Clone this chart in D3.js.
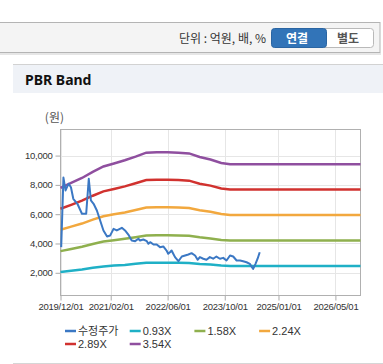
<!DOCTYPE html>
<html>
<head>
<meta charset="utf-8">
<script src="https://cdn.jsdelivr.net/npm/d3@7"></script>
<style>
  body { margin: 0; background: #fff; font-family: "Noto Sans CJK KR", "Noto Sans", sans-serif; }
  svg { display: block; }
</style>
</head>
<body>
<svg width="383" height="364"></svg>
<script>
// x axis ticks
var tickDates = ["2019/12/01", "2021/02/01", "2022/06/01", "2023/10/01", "2025/01/01", "2026/05/01"];
var yTicks = [2000, 4000, 6000, 8000, 10000];

// adjusted price (수정주가)
var priceDates = ["2019/12/07", "2019/12/26", "2020/01/13", "2020/02/08", "2020/02/28", "2020/03/19",
  "2020/04/23", "2020/06/01", "2020/07/07", "2020/07/29", "2020/08/16", "2020/09/08", "2020/10/06",
  "2020/11/03", "2020/12/01", "2021/01/01", "2021/01/28", "2021/02/25", "2021/03/25", "2021/05/07",
  "2021/06/03", "2021/07/01", "2021/07/30", "2021/08/28", "2021/09/25", "2021/10/09", "2021/11/06",
  "2021/12/06", "2021/12/19", "2022/01/03", "2022/02/01", "2022/02/28", "2022/03/28", "2022/04/25",
  "2022/05/23", "2022/06/06", "2022/06/21", "2022/07/05", "2022/07/19", "2022/08/03", "2022/09/01",
  "2022/09/30", "2022/10/28", "2022/11/25", "2022/12/22", "2023/01/21", "2023/02/12", "2023/03/03",
  "2023/04/01", "2023/04/28", "2023/05/27", "2023/06/24", "2023/07/22", "2023/08/21", "2023/09/18",
  "2023/10/16", "2023/11/15", "2023/12/12", "2024/01/10", "2024/02/08", "2024/03/06", "2024/04/04",
  "2024/05/02", "2024/05/16", "2024/05/30", "2024/06/19", "2024/07/07", "2024/07/25"];
var priceValues = [3750, 8500, 7620, 8080, 7840, 7050,
  6710, 6030, 6030, 8420, 6940, 6710, 6250,
  5570, 4890, 4480, 4550, 5000, 4890, 5070,
  4890, 4610, 4200, 4160, 4320, 4200, 4270,
  4160, 3980, 4090, 3930, 3930, 3750, 3800,
  3520, 3300, 3400, 3520, 3300, 3070, 2790,
  3110, 3180, 3250, 3340, 3180, 2890, 3070,
  2960, 2890, 3070, 2960, 3110, 2960, 3020,
  2840, 3180, 3110, 2840, 2840, 2790, 2720,
  2610, 2430, 2270, 2610, 2960, 3400];

// PBR band lines
var bandDates = ["2019/12/01", "2020/03/01", "2020/06/01", "2020/09/01", "2020/12/01", "2021/03/01",
  "2021/06/01", "2021/09/01", "2021/12/01", "2022/03/01", "2022/06/01", "2022/09/01", "2022/12/01",
  "2023/03/01", "2023/06/01", "2023/09/01", "2023/11/15", "2026/12/01"];
var band093 = [2050, 2140, 2230, 2340, 2430, 2490, 2540, 2610, 2680, 2690, 2690, 2680, 2670, 2600, 2560, 2500, 2470, 2470];
var band158 = [3480, 3630, 3780, 3970, 4130, 4220, 4320, 4430, 4550, 4570, 4570, 4550, 4530, 4420, 4340, 4240, 4200, 4200];
var band224 = [4940, 5150, 5360, 5630, 5860, 5990, 6120, 6280, 6450, 6470, 6470, 6450, 6420, 6270, 6160, 6010, 5950, 5950];
var band289 = [6370, 6640, 6920, 7260, 7560, 7720, 7900, 8110, 8330, 8350, 8350, 8330, 8290, 8080, 7950, 7760, 7680, 7680];
var band354 = [7800, 8130, 8470, 8890, 9260, 9460, 9680, 9930, 10200, 10230, 10230, 10200, 10150, 9900, 9730, 9500, 9410, 9410];

var seriesNames = ["수정주가", "0.93X", "1.58X", "2.24X", "2.89X", "3.54X"];
var seriesColors = ["#3b78c4", "#1fb0c6", "#8fb04e", "#f2a83e", "#d1322f", "#8f4f9f"];

var parse = d3.timeParse("%Y/%m/%d");
var svg = d3.select("svg");

// top option bar
svg.append("rect").attr("x", -1).attr("y", 22.5).attr("width", 381).attr("height", 30)
  .attr("fill", "#f4f4f4").attr("stroke", "#b4b4b4");
svg.append("line").attr("x1", 0).attr("x2", 381).attr("y1", 54).attr("y2", 54)
  .attr("stroke", "#e6e6e6").attr("stroke-width", 2);
svg.append("text").attr("x", 266).attr("y", 42.5).attr("text-anchor", "end")
  .attr("font-size", 12).attr("fill", "#333").text("단위 : 억원, 배, %");

svg.append("rect").attr("x", 322).attr("y", 28.5).attr("width", 51.5).attr("height", 19).attr("rx", 3)
  .attr("fill", "#fff").attr("stroke", "#b9b9b9");
svg.append("rect").attr("x", 271.5).attr("y", 28.5).attr("width", 55).attr("height", 19).attr("rx", 3)
  .attr("fill", "#3274b8").attr("stroke", "#2b65a2");
svg.append("rect").attr("x", 318).attr("y", 29).attr("width", 4.5).attr("height", 18).attr("fill", "#3274b8");
svg.append("text").attr("x", 297).attr("y", 42.5).attr("text-anchor", "middle")
  .attr("font-size", 12).attr("font-weight", "bold").attr("fill", "#fff").text("연결");
svg.append("text").attr("x", 348).attr("y", 42.5).attr("text-anchor", "middle")
  .attr("font-size", 12).attr("font-weight", "bold").attr("fill", "#555").text("별도");

// section header
svg.append("rect").attr("x", 13).attr("y", 64).attr("width", 370).attr("height", 29).attr("fill", "#eff2f7");
svg.append("line").attr("x1", 13).attr("x2", 383).attr("y1", 64.5).attr("y2", 64.5).attr("stroke", "#d2d2d2");
svg.append("text").attr("x", 25).attr("y", 85).attr("font-size", 14).attr("font-weight", "bold")
  .attr("fill", "#111").attr("font-family", "'Noto Sans', sans-serif").text("PBR Band");
svg.append("line").attr("x1", 13).attr("x2", 383).attr("y1", 363.5).attr("y2", 363.5).attr("stroke", "#d6d6d6");

// plot area
var plotLeft = 60.5, plotRight = 360.5, plotTop = 129.5, plotBottom = 295.5;

var x = d3.scaleTime()
  .domain([parse("2019/12/01"), parse("2026/12/01")])
  .range([plotLeft, plotRight]);
var y = d3.scaleLinear()
  .domain([450, 11780])
  .range([plotBottom, plotTop]);

var tickFormat = d3.timeFormat("%Y/%m/%d");

// gridlines
svg.append("g").selectAll("line").data(yTicks).enter().append("line")
  .attr("x1", plotLeft).attr("x2", plotRight)
  .attr("y1", function (d) { return Math.round(y(d)) + 0.5; })
  .attr("y2", function (d) { return Math.round(y(d)) + 0.5; })
  .attr("stroke", "#e6e6e6");
svg.append("g").selectAll("line").data(tickDates).enter().append("line")
  .attr("x1", function (d) { return Math.round(x(parse(d))) + 0.5; })
  .attr("x2", function (d) { return Math.round(x(parse(d))) + 0.5; })
  .attr("y1", plotTop).attr("y2", plotBottom)
  .attr("stroke", "#e6e6e6");

// axes
var xAxis = svg.append("g")
  .attr("transform", "translate(0," + plotBottom + ")")
  .call(d3.axisBottom(x)
    .tickValues(tickDates.map(parse))
    .tickFormat(tickFormat)
    .tickSize(5)
    .tickPadding(3));
xAxis.select(".domain").remove();
xAxis.selectAll("line").attr("stroke", "#aaa");
xAxis.selectAll("text").attr("font-size", 9.5).attr("fill", "#333")
  .attr("font-family", "'Liberation Sans', Arial, sans-serif").attr("letter-spacing", "-0.25");

var yAxis = svg.append("g")
  .attr("transform", "translate(" + plotLeft + ",0)")
  .call(d3.axisLeft(y)
    .tickValues(yTicks)
    .tickFormat(d3.format(","))
    .tickSize(5)
    .tickPadding(3));
yAxis.select(".domain").remove();
yAxis.selectAll("line").attr("stroke", "#aaa");
yAxis.selectAll("text").attr("font-size", 9.5).attr("fill", "#333")
  .attr("font-family", "'Liberation Sans', Arial, sans-serif").attr("letter-spacing", "-0.25");

svg.append("text").attr("x", 64).attr("y", 122).attr("text-anchor", "end")
  .attr("font-size", 12).attr("fill", "#555").text("(원)");

// plot border
svg.append("rect").attr("x", plotLeft).attr("y", plotTop)
  .attr("width", plotRight - plotLeft).attr("height", plotBottom - plotTop)
  .attr("fill", "none").attr("stroke", "#b0b0b0");

var line = d3.line()
  .x(function (d) { return x(d.date); })
  .y(function (d) { return y(d.value); });

function toPoints(dates, values) {
  return dates.map(function (d, i) { return { date: parse(d), value: values[i] }; });
}

var bands = [band093, band158, band224, band289, band354];
var lines = svg.append("g").attr("class", "lines");
bands.forEach(function (b, i) {
  lines.append("path")
    .datum(toPoints(bandDates, b))
    .attr("d", line)
    .attr("fill", "none")
    .attr("stroke", seriesColors[i + 1])
    .attr("stroke-width", 2.5);
});
lines.append("path")
  .datum(toPoints(priceDates, priceValues))
  .attr("d", line)
  .attr("fill", "none")
  .attr("stroke", seriesColors[0])
  .attr("stroke-width", 2)
  .attr("stroke-linejoin", "round");

// legend
var legend = svg.append("g").selectAll("g").data(seriesNames).enter().append("g")
  .attr("transform", function (d, i) {
    var col = i % 4, row = Math.floor(i / 4);
    return "translate(" + (65 + col * 64.7) + "," + (331 + row * 13) + ")";
  });
legend.append("line").attr("x1", 0).attr("x2", 11).attr("y1", 0).attr("y2", 0)
  .attr("stroke", function (d, i) { return seriesColors[i]; }).attr("stroke-width", 2.5);
legend.append("text").attr("x", 13).attr("y", 4)
  .attr("font-size", 11).attr("fill", "#333")
  .attr("font-family", "'Liberation Sans', 'Noto Sans CJK KR', sans-serif")
  .text(function (d) { return d; });
</script>
</body>
</html>
